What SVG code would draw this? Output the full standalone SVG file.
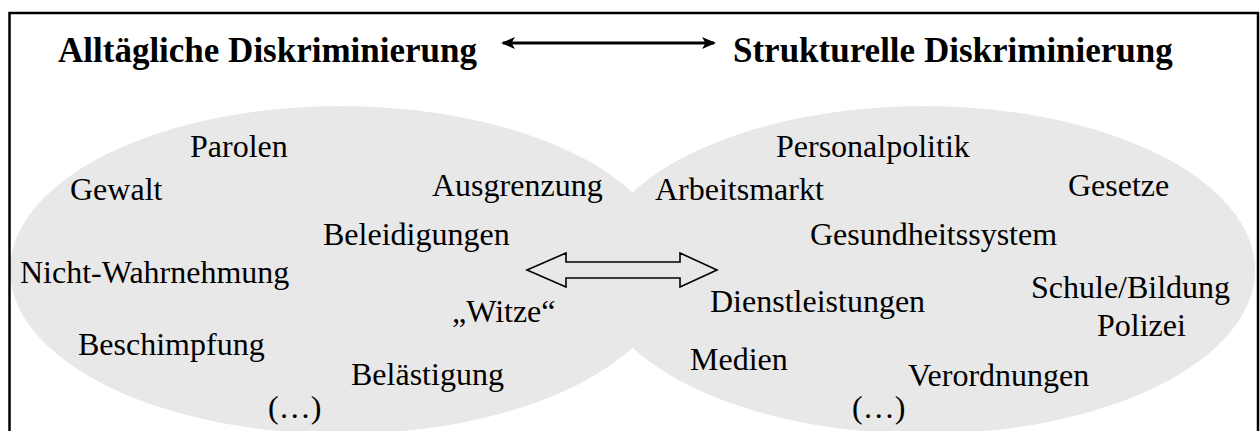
<svg xmlns="http://www.w3.org/2000/svg" width="1260" height="431" viewBox="0 0 1260 431">
  <defs>
    <style>
      .title { font-family: "Liberation Serif", "Times New Roman", serif; font-weight: bold; font-size: 35px; fill: #000; }
      .term { font-family: "Liberation Serif", "Times New Roman", serif; font-size: 32px; fill: #000; }
      .field { fill: #e8e8e8; stroke: none; }
      .frame { fill: none; stroke: #000; stroke-width: 2.5; }
      .link { fill: none; stroke: #000; stroke-width: 3; }
      .block { fill: none; stroke: #000; stroke-width: 1.6; stroke-linejoin: miter; }
    </style>
    <marker id="head" viewBox="0 0 14 12" refX="12" refY="6" markerWidth="14" markerHeight="12" markerUnits="userSpaceOnUse" orient="auto-start-reverse">
      <path d="M14,6 L0,0 L3.5,6 L0,12 Z" fill="#000"/>
    </marker>
  </defs>

  <!-- two overlapping fields -->
  <g id="field-everyday">
    <ellipse class="field" cx="341" cy="270" rx="331" ry="164"/>
  </g>
  <g id="field-structural">
    <ellipse class="field" cx="924" cy="270" rx="331" ry="164"/>
  </g>

  <!-- outer frame (open at the bottom edge) -->
  <path class="frame" d="M9.5,440 V13 H1258 V440"/>

  <!-- headings -->
  <g id="heading-everyday">
    <text class="title" x="58" y="62">Alltägliche Diskriminierung</text>
  </g>
  <g id="heading-structural">
    <text class="title" x="733" y="62">Strukturelle Diskriminierung</text>
  </g>

  <!-- connectors -->
  <g id="connectors">
    <line class="link" x1="503" y1="43" x2="714" y2="43" marker-start="url(#head)" marker-end="url(#head)"/>
    <path class="block" d="M527,270 L566,253 L566,262 L680,262 L680,253 L717,270 L680,287 L680,278 L566,278 L566,287 Z"/>
  </g>

  <!-- everyday discrimination terms -->
  <g id="terms-everyday">
    <text class="term" x="190" y="157">Parolen</text>
    <text class="term" x="70" y="200">Gewalt</text>
    <text class="term" x="432" y="196">Ausgrenzung</text>
    <text class="term" x="323" y="245">Beleidigungen</text>
    <text class="term" x="20" y="283">Nicht-Wahrnehmung</text>
    <text class="term" x="452" y="322">„Witze“</text>
    <text class="term" x="78" y="355">Beschimpfung</text>
    <text class="term" x="351" y="385">Belästigung</text>
    <text class="term" x="268" y="418">(…)</text>
  </g>

  <!-- structural discrimination terms -->
  <g id="terms-structural">
    <text class="term" x="776" y="157">Personalpolitik</text>
    <text class="term" x="655" y="200">Arbeitsmarkt</text>
    <text class="term" x="1068" y="196">Gesetze</text>
    <text class="term" x="810" y="245">Gesundheitssystem</text>
    <text class="term" x="710" y="312">Dienstleistungen</text>
    <text class="term" x="1031" y="298">Schule/Bildung</text>
    <text class="term" x="1097" y="336">Polizei</text>
    <text class="term" x="690" y="370">Medien</text>
    <text class="term" x="908" y="386">Verordnungen</text>
    <text class="term" x="852" y="418">(…)</text>
  </g>
</svg>
